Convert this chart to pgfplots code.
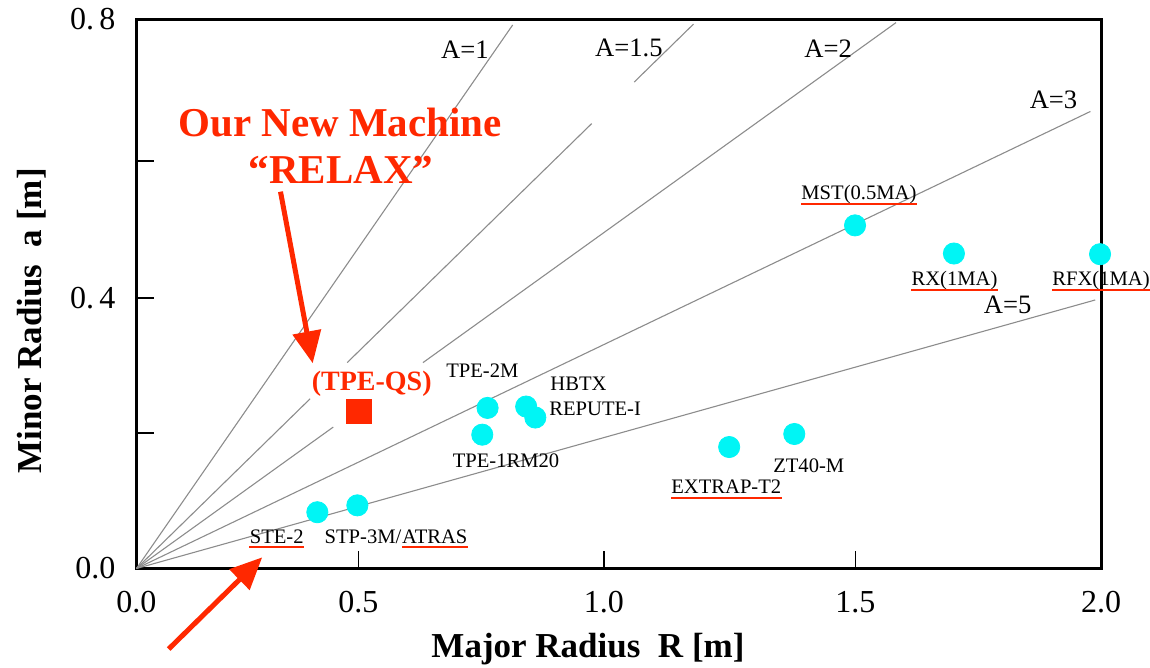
\documentclass[border=0pt]{standalone}
\usepackage{pgfplots}
\pgfplotsset{compat=1.18}
\usepackage{fontspec}
\setmainfont{Liberation Serif}
\usetikzlibrary{arrows.meta}
\definecolor{myred}{RGB}{255,40,0}
\definecolor{mycyan}{RGB}{0,245,245}
\tikzset{
  lab/.style={font=\fontsize{10.3bp}{12bp}\selectfont, inner sep=0, anchor=base},
  alab/.style={font=\fontsize{13.3bp}{15bp}\selectfont, inner sep=0},
}
\begin{document}
\begin{tikzpicture}
\path[use as bounding box] (-68.25bp,-49.75bp) rectangle (506.75bp,284.25bp);
\begin{axis}[
  at={(0,0)}, anchor=south west,
  scale only axis, width=482.25bp, height=274.5bp,
  xmin=0, xmax=2, ymin=0, ymax=0.8,
  axis line style={line width=1.5bp},
  tick pos=left, tick align=inside,
  major tick length=9bp,
  tick style={line width=0.8bp, black},
  xtick={0,0.4603,0.9694,1.4909,2},
  xticklabels={0.0,0.5,1.0,1.5,2.0},
  ytick={0,0.1975,0.3942,0.5938,0.8},
  yticklabels={0.0,{},0.\,4,{},0.\,8},
  ticklabel style={font=\fontsize{16bp}{19bp}\selectfont},
  xticklabel style={yshift=-8bp},
  yticklabel style={xshift=-7bp},
  clip=false,
]
% aspect ratio lines a = R/A (drawn with gaps as in the original)
\addplot[black!45, line width=0.55bp] coordinates {(0,0) (0.78,0.792)};
\addplot[black!45, line width=0.55bp] coordinates {(0,0) (0.36,0.2473)};
\addplot[black!45, line width=0.55bp] coordinates {(0.437,0.3001) (0.944,0.6484)};
\addplot[black!45, line width=0.55bp] coordinates {(1.032,0.7088) (1.155,0.7933)};
\addplot[black!45, line width=0.55bp] coordinates {(0,0) (0.408,0.2061)};
\addplot[black!45, line width=0.55bp] coordinates {(0.594,0.3) (1.575,0.7955)};
\addplot[black!45, line width=0.55bp] coordinates {(0,0) (1.978,0.666)};
\addplot[black!45, line width=0.55bp] coordinates {(0,0) (1.988,0.3913)};
% machines
\addplot[only marks, mark=*, mark size=5.3bp, mark options={draw=mycyan, fill=mycyan}] coordinates {
 (0.375,0.082) (0.458,0.092) (0.728,0.234) (0.717,0.195) (0.808,0.236)
 (0.827,0.220) (1.229,0.177) (1.364,0.196) (1.490,0.500) (1.695,0.459) (1.998,0.458)};
\addplot[only marks, mark=square*, mark size=6.2bp, mark options={draw=myred, fill=myred}] coordinates {(0.461,0.229)};
% A labels
\node[alab] at (axis cs:0.681,0.7555) {A=1};
\node[alab] at (axis cs:1.021,0.7585) {A=1.5};
\node[alab] at (axis cs:1.434,0.758) {A=2};
\node[alab] at (axis cs:1.9015,0.6827) {A=3};
\node[alab] at (axis cs:1.8066,0.384) {A=5};
% machine labels
\node[lab] (mst) at (axis cs:1.498,0.537) {MST(0.5MA)};
\node[lab] (rx) at (axis cs:1.6962,0.4117) {RX(1MA)};
\node[lab] (rfx) at (axis cs:2.0,0.4117) {RFX(1MA)};
\node[lab] at (axis cs:0.7172,0.2786) {TPE-2M};
\node[lab, anchor=base west] at (axis cs:0.8575,0.2591) {HBTX};
\node[lab, anchor=base west] at (axis cs:0.8554,0.2227) {REPUTE-I};
\node[lab] at (axis cs:0.7662,0.1475) {TPE-1RM20};
\node[lab] (ste) at (axis cs:0.2907,0.0367) {STE-2};
\node[lab, anchor=base west] (stp) at (axis cs:0.3894,0.0367) {STP-3M/};
\node[lab, anchor=base west] (atras) at (stp.base east) {ATRAS};
\node[lab] (ext) at (axis cs:1.223,0.1086) {EXTRAP-T2};
\node[lab] at (axis cs:1.394,0.1402) {ZT40-M};
\draw[myred, line width=1bp] ([yshift=-1.8bp]mst.base west) -- ([yshift=-1.8bp]mst.base east);
\draw[myred, line width=1bp] ([yshift=-1.8bp]rx.base west) -- ([yshift=-1.8bp]rx.base east);
\draw[myred, line width=1bp] ([yshift=-1.8bp]rfx.base west) -- ([yshift=-1.8bp]rfx.base east);
\draw[myred, line width=1bp] ([yshift=-1.8bp]ste.base west) -- ([yshift=-1.8bp]ste.base east);
\draw[myred, line width=1bp] ([yshift=-1.8bp]atras.base west) -- ([yshift=-1.8bp]atras.base east);
\draw[myred, line width=1bp] ([yshift=-1.8bp]ext.base west) -- ([yshift=-1.8bp]ext.base east);
% new machine
\node[anchor=base, inner sep=0, text=myred, font=\bfseries\fontsize{14bp}{16bp}\selectfont] at (axis cs:0.4878,0.2601) {(TPE-QS)};
\node[anchor=base, inner sep=0, text=myred, font=\bfseries\fontsize{20.5bp}{24bp}\selectfont] at (axis cs:0.422,0.6292) {Our New Machine};
\node[anchor=base, inner sep=0, text=myred, font=\bfseries\fontsize{20.5bp}{24bp}\selectfont] at (axis cs:0.4241,0.5613) {“RELAX”};
\draw[myred, line width=2.5bp, -{Triangle[length=16bp,width=14bp]}] (axis cs:0.2986,0.5491) -- (axis cs:0.3654,0.2990);
\draw[myred, line width=2.5bp, -{Triangle[length=16bp,width=14bp]}] (axis cs:0.0668,-0.1173) -- (axis cs:0.2607,0.0163);
% axis titles
\node[anchor=base, inner sep=0, font=\bfseries\fontsize{17.5bp}{20bp}\selectfont] at (axis cs:0.9362,-0.129) {Major Radius~~R [m]};
\node[anchor=center, inner sep=0, rotate=90, font=\bfseries\fontsize{17.5bp}{20bp}\selectfont] at (axis cs:-0.2167,0.3607) {Minor Radius~~a [m]};
\end{axis}
\end{tikzpicture}
\end{document}
